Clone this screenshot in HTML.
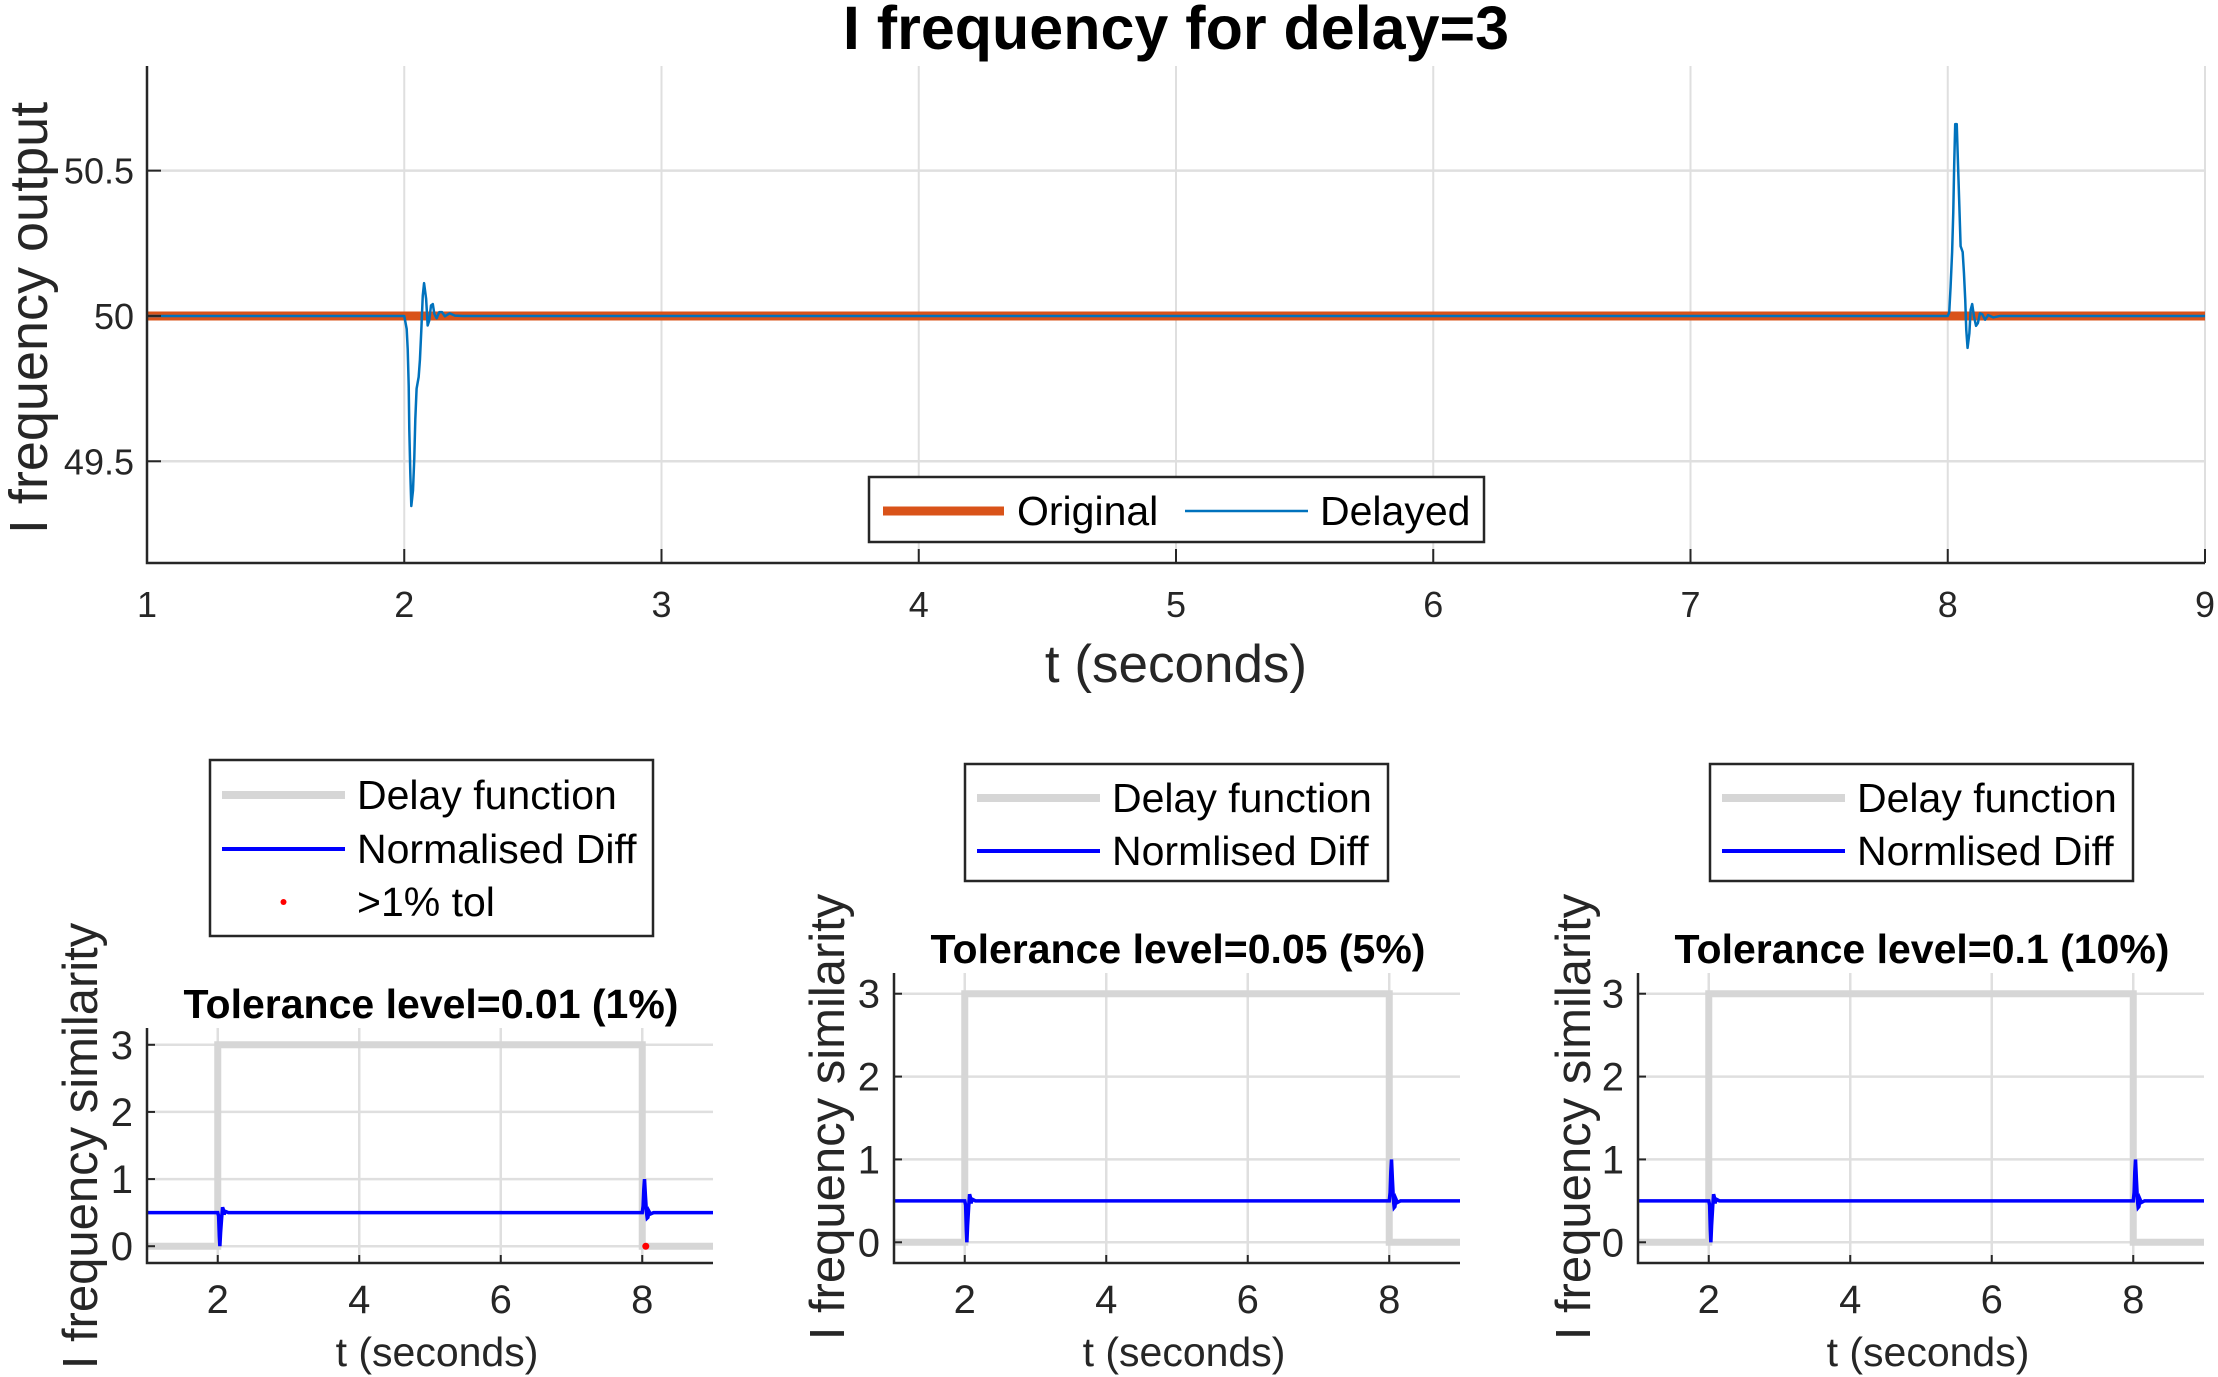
<!DOCTYPE html>
<html><head><meta charset="utf-8"><style>
html,body{margin:0;padding:0;background:#fff}
svg{display:block;font-family:"Liberation Sans",sans-serif}
</style></head><body>
<svg id="fig" width="2218" height="1377" viewBox="0 0 2218 1377" xmlns="http://www.w3.org/2000/svg"></svg>
<script>
// ---- Top chart data ----
const topXTicks = [1,2,3,4,5,6,7,8,9];
const topYTicks = [49.5, 50, 50.5];
const topYTickLabels = ["49.5","50","50.5"];
const originalT = [1, 9];
const originalV = [50, 50];
const delayedT = [1,2.0,2.0095,2.0134,2.0173,2.0196,2.0235,2.0274,2.034,2.039,2.043,2.048,2.056,2.061,2.066,2.072,2.077,2.085,2.091,2.097,2.104,2.111,2.117,2.126,2.136,2.147,2.158,2.177,2.197,2.228,
  8.0,8.0058,8.011,8.017,8.0215,8.025,8.029,8.035,8.040,8.045,8.050,8.058,8.063,8.068,8.072,8.077,8.084,8.089,8.095,8.102,8.110,8.117,8.125,8.134,8.145,8.157,8.177,8.203,9];
const delayedV = [50,50,49.955,49.886,49.76,49.61,49.46,49.346,49.40,49.51,49.645,49.75,49.79,49.85,49.945,50.07,50.113,50.059,49.967,49.984,50.036,50.041,50.007,49.992,50.013,50.013,49.999,50.009,50.001,50.0,
  50,50.013,50.10,50.22,50.358,50.518,50.66,50.66,50.518,50.38,50.24,50.22,50.147,50.055,49.952,49.89,49.94,50.021,50.041,49.998,49.966,49.975,50.009,50.006,49.987,50.003,49.995,50.0,50.0];
// ---- Bottom chart data ----
const botXTicks = [2,4,6,8];
const botYTicks = [0,1,2,3];
const delayFnT = [1,2,2,8,8,9];
const delayFnV = [0,0,3,3,0,0];
const diffT = [1,2.0,2.012,2.022,2.03,2.04,2.055,2.068,2.078,2.09,2.105,2.15,8.0,8.012,8.022,8.032,8.045,8.06,8.07,8.08,8.095,8.115,8.16,9];
const diffV = [0.5,0.5,0.45,0.15,0.0,0.2,0.42,0.58,0.55,0.47,0.52,0.5,0.5,0.6,0.85,1.0,0.75,0.5,0.42,0.43,0.52,0.48,0.5,0.5];
const tolT = [8.05];
const tolV = [0];
const subTitles = ["Tolerance level=0.01 (1%)","Tolerance level=0.05 (5%)","Tolerance level=0.1 (10%)"];
const legendDiffLabels = ["Normalised Diff","Normlised Diff","Normlised Diff"];

const svg = document.getElementById('fig');
const NS = 'http://www.w3.org/2000/svg';
function mk(tag, attrs, parent){ const e=document.createElementNS(NS,tag); for(const k in attrs) e.setAttribute(k,attrs[k]); (parent||svg).appendChild(e); return e; }
function txt(s, attrs, parent){ const e=mk('text',attrs,parent); e.textContent=s; return e; }
const AX='#262626', GRID='#dfdfdf';

function axesFns(L,R,T,B,x0,x1,y0,y1){
  return { sx:v=>L+(v-x0)/(x1-x0)*(R-L), sy:v=>B-(v-y0)/(y1-y0)*(B-T) };
}
function pathD(ts,vs,f){ return ts.map((t,i)=>(i?'L':'M')+f.sx(t).toFixed(2)+' '+f.sy(vs[i]).toFixed(2)).join(' '); }

// ===== TOP =====
(function(){
  const L=147,R=2205,T=66,B=563;
  const f=axesFns(L,R,T,B,1,9,49.15,50.86);
  const g=mk('g',{});  
  topXTicks.forEach(v=>{ const l=mk('line',{x1:f.sx(v),x2:f.sx(v),y1:T,y2:B,stroke:GRID,'stroke-width':2},g);   });
  topYTicks.forEach(v=>{ const l=mk('line',{x1:L,x2:R,y1:f.sy(v),y2:f.sy(v),stroke:GRID,'stroke-width':2.5},g);   });
  const o=mk('path',{d:pathD(originalT,originalV,f),stroke:'#D95319','stroke-width':9,fill:'none'},g);
   
  const d=mk('path',{d:pathD(delayedT,delayedV,f),stroke:'#0072BD','stroke-width':2.5,fill:'none','stroke-linejoin':'round'},g);
   
  const ax=mk('path',{d:`M${L} ${T} L${L} ${B} L${R} ${B}`,stroke:AX,'stroke-width':2.5,fill:'none'},g);
   
  topXTicks.forEach(v=>{
    mk('line',{x1:f.sx(v),x2:f.sx(v),y1:B,y2:B-14,stroke:AX,'stroke-width':2},g);
    const t=txt(String(v),{x:f.sx(v),y:617,'font-size':36,fill:AX,'text-anchor':'middle'},g);
     
  });
  topYTicks.forEach((v,i)=>{
    mk('line',{x1:L,x2:L+14,y1:f.sy(v),y2:f.sy(v),stroke:AX,'stroke-width':2},g);
    const t=txt(topYTickLabels[i],{x:134,y:f.sy(v)+13,'font-size':36,fill:AX,'text-anchor':'end'},g);
     
  });
  const ti=txt('I frequency for delay=3',{x:1176,y:49,'font-size':61,'font-weight':'bold','text-anchor':'middle',fill:'#000'},g);
   
  const xl=txt('t (seconds)',{x:1176,y:682,'font-size':53,'text-anchor':'middle',fill:AX},g);
   
  const yl=txt('I frequency output',{x:0,y:0,'font-size':54,'text-anchor':'middle',fill:AX,transform:'translate(47,318) rotate(-90)'},g);
   
  const lg=mk('g',{},g);  
  mk('rect',{x:869,y:477,width:615,height:65,fill:'#fff',stroke:AX,'stroke-width':2.5},lg);
  mk('line',{x1:883,x2:1004,y1:511,y2:511,stroke:'#D95319','stroke-width':9},lg);
  const e1=txt('Original',{x:1017,y:525,'font-size':41,fill:'#000'},lg);  
  mk('line',{x1:1185,x2:1308,y1:511,y2:511,stroke:'#0072BD','stroke-width':2.5},lg);
  const e2=txt('Delayed',{x:1320,y:525,'font-size':41,fill:'#000'},lg);  
})();

// ===== BOTTOM =====
const panels=[
  {L:147,T:1028,lgX:210,lgY:760,lgW:443,lgH:176,titleY:1018,ylx:97,yly:1146,rows:[795,849,902],tol:true},
  {L:894,T:973,lgX:965,lgY:764,lgW:423,lgH:117,titleY:963,ylx:844,yly:1117,rows:[798,851],tol:false},
  {L:1638,T:973,lgX:1710,lgY:764,lgW:423,lgH:117,titleY:963,ylx:1590,yly:1117,rows:[798,851],tol:false}
];
panels.forEach((p,idx)=>{
  const L=p.L,R=p.L+566,T=p.T,B=1263;
  const f=axesFns(L,R,T,B,1,9,-0.25,3.25);
  const g=mk('g',{});  
  botXTicks.forEach(v=>{ const l=mk('line',{x1:f.sx(v),x2:f.sx(v),y1:T,y2:B,stroke:GRID,'stroke-width':2.5},g);   });
  botYTicks.forEach(v=>{ const l=mk('line',{x1:L,x2:R,y1:f.sy(v),y2:f.sy(v),stroke:GRID,'stroke-width':2.5},g);   });
  const df=mk('path',{d:pathD(delayFnT,delayFnV,f),stroke:'#d6d6d6','stroke-width':7,fill:'none'},g);
   
  const nd=mk('path',{d:pathD(diffT,diffV,f),stroke:'#0000FF','stroke-width':3.5,fill:'none'},g);
   
  if(p.tol){ tolT.forEach((t,i)=>{ const c=mk('circle',{cx:f.sx(t),cy:f.sy(tolV[i]),r:3.5,fill:'#ff0000'},g);   }); }
  const ax=mk('path',{d:`M${L} ${T} L${L} ${B} L${R} ${B}`,stroke:AX,'stroke-width':2.5,fill:'none'},g);
   
  botXTicks.forEach(v=>{
    mk('line',{x1:f.sx(v),x2:f.sx(v),y1:B,y2:B-8,stroke:AX,'stroke-width':2},g);
    const t=txt(String(v),{x:f.sx(v),y:1313,'font-size':40,fill:AX,'text-anchor':'middle'},g);
     
  });
  botYTicks.forEach(v=>{
    mk('line',{x1:L,x2:L+8,y1:f.sy(v),y2:f.sy(v),stroke:AX,'stroke-width':2},g);
    const t=txt(String(v),{x:L-14,y:f.sy(v)+14,'font-size':40,fill:AX,'text-anchor':'end'},g);
     
  });
  const ti=txt(subTitles[idx],{x:L+284,y:p.titleY,'font-size':41,'font-weight':'bold','text-anchor':'middle',fill:'#000'},g);
   
  const xl=txt('t (seconds)',{x:L+290,y:1366,'font-size':41,'text-anchor':'middle',fill:AX},g);
   
  const yl=txt('I frequency similarity',{x:0,y:0,'font-size':49,'text-anchor':'middle',fill:AX,transform:`translate(${p.ylx},${p.yly}) rotate(-90)`},g);
   
  const lg=mk('g',{},g);  
  mk('rect',{x:p.lgX,y:p.lgY,width:p.lgW,height:p.lgH,fill:'#fff',stroke:AX,'stroke-width':2.5},lg);
  const sx0=p.lgX+12, sx1=p.lgX+135, tx=p.lgX+147;
  mk('line',{x1:sx0,x2:sx1,y1:p.rows[0],y2:p.rows[0],stroke:'#d6d6d6','stroke-width':8},lg);
  const a=txt('Delay function',{x:tx,y:p.rows[0]+14,'font-size':41,fill:'#000'},lg);  
  mk('line',{x1:sx0,x2:sx1,y1:p.rows[1],y2:p.rows[1],stroke:'#0000FF','stroke-width':4},lg);
  const b=txt(legendDiffLabels[idx],{x:tx,y:p.rows[1]+14,'font-size':41,fill:'#000'},lg);  
  if(p.tol){
    mk('circle',{cx:(sx0+sx1)/2,cy:p.rows[2],r:3,fill:'#ff0000'},lg);
    const c=txt('>1% tol',{x:tx,y:p.rows[2]+14,'font-size':41,fill:'#000'},lg);  
  }
});
</script>
</body></html>
